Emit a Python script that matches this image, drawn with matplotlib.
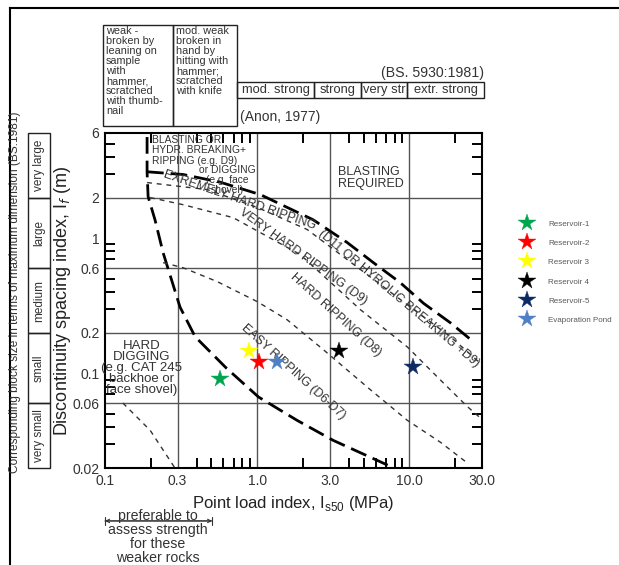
import matplotlib
matplotlib.use("Agg")
import matplotlib.pyplot as plt
import matplotlib.transforms as mtransforms
from matplotlib.patches import Rectangle
from matplotlib.lines import Line2D
from matplotlib.ticker import LogLocator, NullFormatter
import numpy as np

plt.rcParams['font.family'] = ['Liberation Sans', 'DejaVu Sans']

# Sample sites (Is50 in MPa, If in m)
site_names = ["Reservoir-1", "Reservoir-2", "Reservoir 3", "Reservoir 4", "Reservoir-5", "Evaporation Pond"]
site_is50 = [0.57, 1.03, 0.885, 3.46, 10.5, 1.35]
site_if = [0.091, 0.122, 0.147, 0.147, 0.112, 0.122]
site_colors = ["#00a550", "#ff0000", "#ffff00", "#000000", "#0d2a63", "#4f7fc4"]

# Boundaries of excavatability classes
dig_x = [0.189, 0.189, 0.192, 0.213, 0.241, 0.311, 0.391, 0.625, 1.02, 1.83, 3.16, 7.2]
dig_y = [5.6, 3.1, 2.03, 1.37, 0.78, 0.31, 0.187, 0.11, 0.067, 0.045, 0.032, 0.021]
blast_x = [0.189, 0.326, 0.57, 1.05, 2.33, 3.9, 5.8, 8.7, 12.4, 18.6, 25]
blast_y = [3.1, 2.96, 2.6, 2.1, 1.37, 0.93, 0.66, 0.47, 0.33, 0.237, 0.18]
ehr_x = [0.189, 0.469, 1.0, 2.13, 9.7, 18.6, 30]
ehr_y = [2.58, 2.29, 1.69, 1.16, 0.322, 0.187, 0.116]
vhr_x = [0.198, 0.326, 0.695, 1.92, 4.77, 9.7, 15.3, 24, 30.5]
vhr_y = [2.0, 1.77, 1.42, 0.757, 0.296, 0.157, 0.094, 0.057, 0.045]
hr_x = [0.241, 0.326, 0.546, 1.0, 1.57, 2.72, 5.53, 9.7, 16, 24]
hr_y = [0.66, 0.605, 0.478, 0.34, 0.25, 0.15, 0.076, 0.045, 0.031, 0.0218]
soft_x = [0.131, 0.198, 0.288]
soft_y = [0.0605, 0.038, 0.02]

# axes
x_ticks = [0.1, 0.3, 1.0, 3.0, 10.0, 30.0]
x_tick_labels = ["0.1", "0.3", "1.0", "3.0", "10.0", "30.0"]
y_ticks = [0.02, 0.06, 0.1, 0.2, 0.6, 1, 2, 6]
y_tick_labels = ["0.02", "0.06", "0.1", "0.2", "0.6", "1", "2", "6"]
x_grid = [0.3, 1.0, 3.0, 10.0]
y_grid = [0.06, 0.2, 0.6, 2]

# strength classes along the top (MPa bounds)
weak_bounds = [0.097, 0.28, 0.74]
weak_texts = ["weak -\nbroken by\nleaning on\nsample\nwith\nhammer,\nscratched\nwith thumb-\nnail",
              "mod. weak\nbroken in\nhand by\nhitting with\nhammer;\nscratched\nwith knife"]
strong_bounds = [0.74, 2.37, 4.83, 9.7, 30.7]
strong_texts = ["mod. strong", "strong", "very str", "extr. strong"]

# block size classes along the left (m bounds)
block_bounds = [0.02, 0.06, 0.2, 0.6, 2, 6]
block_texts = ["very small", "small", "medium", "large", "very large"]

fig = plt.figure(figsize=(6.19, 5.65), dpi=100)
ax = fig.add_axes([105 / 619, 1 - 468 / 565, 377 / 619, 335 / 565])
ax.set_xscale('log')
ax.set_yscale('log')
ax.set_xlim(0.1, 30)
ax.set_ylim(0.02, 6)

for g in x_grid:
    ax.axvline(g, color='#555555', lw=1.0, zorder=1)
for g in y_grid:
    ax.axhline(g, color='#555555', lw=1.0, zorder=1)

heavy = dict(color='black', lw=2.0, linestyle=(0, (6, 2.5)), zorder=3)
thin = dict(color='#333333', lw=1.0, linestyle=(0, (3.5, 3.5)), zorder=3)
ax.plot(dig_x, dig_y, **heavy)
ax.plot(blast_x, blast_y, **heavy)
ax.plot(ehr_x, ehr_y, **thin)
ax.plot(vhr_x, vhr_y, **thin)
ax.plot(hr_x, hr_y, **thin)
ax.plot(soft_x, soft_y, **thin)

handles = []
for name, xv, yv, c in zip(site_names, site_is50, site_if, site_colors):
    z = 4 if name == "Reservoir 3" else 5
    h, = ax.plot([xv], [yv], linestyle='none', marker='*', markersize=13,
                 color=c, markeredgecolor=c, markeredgewidth=0.3, zorder=z, label=name)
    handles.append(h)

ax.set_xticks(x_ticks)
ax.set_xticklabels(x_tick_labels)
ax.set_yticks(y_ticks)
ax.set_yticklabels(y_tick_labels)
for axis in (ax.xaxis, ax.yaxis):
    axis.set_minor_locator(LogLocator(base=10, subs=np.arange(2, 10)))
    axis.set_minor_formatter(NullFormatter())
ax.tick_params(which='both', direction='in', top=True, right=True, width=1.4, color='black')
ax.tick_params(which='major', length=0, labelsize=10, labelcolor='#333333', pad=4)
ax.tick_params(which='minor', length=7)
for s in ax.spines.values():
    s.set_linewidth(1.5)

ax.set_xlabel("Point load index, I$_\\mathregular{s50}$ (MPa)", fontsize=12, color='#222222')
ax.xaxis.set_label_coords(0.5, -0.078)
ax.set_ylabel("Discontinuity spacing index, I$_f$ (m)", fontsize=13, color='#222222')
ax.yaxis.set_label_coords(-0.086, 0.5)

# zone labels
tc = '#333333'
ax.text(0.204, 5.8, "BLASTING OR\nHYDR. BREAKING+\nRIPPING (e.g. D9)", fontsize=7.4,
        color=tc, ha='left', va='top', linespacing=1.05)
ax.text(0.64, 3.5, "or DIGGING\n(e.g. face\nshovel)", fontsize=7.4,
        color=tc, ha='center', va='top', linespacing=1.05)
ax.text(3.41, 3.4, "BLASTING\nREQUIRED", fontsize=9, color=tc, ha='left', va='top', linespacing=1.0)
ax.text(0.77, 1.9, "EXREMELY HARD RIPPING", fontsize=9, color=tc, rotation=-19,
        ha='center', va='center', rotation_mode='anchor')
ax.text(8.47, 0.357, "(D11 OR HYROLIC BREAKING +D9)", fontsize=9, color=tc, rotation=-40,
        ha='center', va='center', rotation_mode='anchor')
ax.text(2.0, 0.73, "VERY HARD RIPPING (D9)", fontsize=9, color=tc, rotation=-36,
        ha='center', va='center', rotation_mode='anchor')
ax.text(3.26, 0.27, "HARD RIPPING (D8)", fontsize=9, color=tc, rotation=-42,
        ha='center', va='center', rotation_mode='anchor')
ax.text(1.73, 0.103, "EASY RIPPING (D6-D7)", fontsize=9, color=tc, rotation=-42,
        ha='center', va='center', rotation_mode='anchor')
ax.text(0.175, 0.11, "HARD\nDIGGING\n(e.g. CAT 245\nbackhoe or\nface shovel)", fontsize=9.5,
        color=tc, ha='center', va='center', linespacing=0.9)

# strength boxes on top
top = mtransforms.blended_transform_factory(ax.transData, ax.transAxes)
top_txt = mtransforms.offset_copy(top, fig=fig, x=3, y=-1, units='dots')
for x0, x1, t in zip(weak_bounds[:-1], weak_bounds[1:], weak_texts):
    ax.add_patch(Rectangle((x0, 1.021), x1 - x0, 0.301, transform=top, fill=False,
                           lw=1.0, edgecolor='#222222', clip_on=False))
    ax.text(x0, 1.322, t, transform=top_txt, fontsize=7.8, color=tc, ha='left', va='top',
            linespacing=1.0, clip_on=False)
for x0, x1, t in zip(strong_bounds[:-1], strong_bounds[1:], strong_texts):
    ax.add_patch(Rectangle((x0, 1.1045), x1 - x0, 0.0475, transform=top, fill=False,
                           lw=1.0, edgecolor='#222222', clip_on=False))
    ax.text(np.sqrt(x0 * x1), 1.128, t, transform=top, fontsize=9.3, color=tc,
            ha='center', va='center', clip_on=False)
ax.text(30.7, 1.179, "(BS. 5930:1981)", transform=top, fontsize=10.2, color=tc, ha='right', va='center')
ax.text(0.773, 1.048, "(Anon, 1977)", transform=top, fontsize=10, color=tc, ha='left', va='center')

# block size column on the left
left = mtransforms.blended_transform_factory(ax.transAxes, ax.transData)
for y0, y1, t in zip(block_bounds[:-1], block_bounds[1:], block_texts):
    ax.add_patch(Rectangle((-0.2042, y0), 0.0583, y1 - y0, transform=left, fill=False,
                           lw=1.0, edgecolor='#222222', clip_on=False))
    ax.text(-0.175, np.sqrt(y0 * y1), t, transform=left, rotation=90, fontsize=8.5, color=tc,
            ha='center', va='center', clip_on=False)
fig.text(15 / 619, 1 - 292 / 565, "Corresponding block size in terms of maximum dimension (BS:1981)",
         rotation=90, fontsize=8.6, color=tc, ha='center', va='center')

# note under the x axis
fig.text(158 / 619, 1 - 537 / 565, "preferable to\nassess strength\nfor these\nweaker rocks",
         fontsize=10.2, color=tc, ha='center', va='center', linespacing=1.0)
arr = mtransforms.blended_transform_factory(ax.transData, fig.transFigure)
ax.annotate('', xy=(0.1, 0.078), xytext=(0.506, 0.078), xycoords=arr, textcoords=arr,
            arrowprops=dict(arrowstyle='<->', lw=0.8, color='#333333', shrinkA=0, shrinkB=0,
                            mutation_scale=6))
ax.annotate('', xy=(0.1, 0.078), xytext=(0.506, 0.078), xycoords=arr, textcoords=arr,
            arrowprops=dict(arrowstyle='|-|, widthA=0.3, widthB=0.3', lw=0.8, color='#333333',
                            shrinkA=0, shrinkB=0))

leg = fig.legend(handles=handles, loc='upper left', bbox_to_anchor=(517 / 619, 1 - 216 / 565),
                 frameon=False, fontsize=5.8, labelcolor='#595959', handlelength=1.6,
                 handletextpad=1.8, labelspacing=1.45, borderpad=0)

# outer frame
fig.add_artist(Line2D([10 / 619, 1], [1 - 8 / 565, 1 - 8 / 565], transform=fig.transFigure,
                      color='black', lw=1.5))
fig.add_artist(Line2D([10 / 619, 10 / 619], [0, 1 - 8 / 565], transform=fig.transFigure,
                      color='black', lw=1.5))

fig.savefig("out.png", dpi=100)
